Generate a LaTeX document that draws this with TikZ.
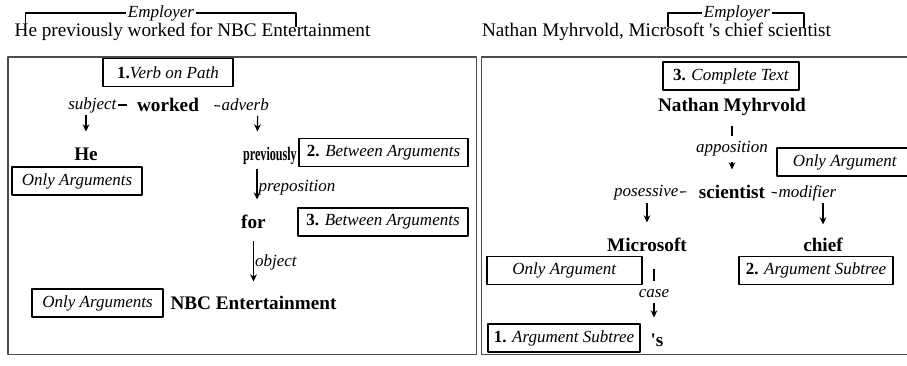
\documentclass[tikz,border=0pt]{standalone}
\usepackage{fontspec}
\usepackage{graphicx}
\setmainfont{Liberation Serif}[BoldFont={Liberation Serif Bold},ItalicFont={Liberation Serif Italic},BoldItalicFont={Liberation Serif Bold Italic}]
\usetikzlibrary{arrows.meta}
\begin{document}
\begin{tikzpicture}[>={Stealth[length=3.6pt,width=3.4pt]},line join=round,x=0.5pt,y=-0.5pt,line width=0.55pt,
	word/.style={font=\fontsize{9.6}{11}\selectfont\bfseries,inner xsep=1pt,inner ysep=0pt,text height=6.5pt,text depth=0pt},
	lab/.style={font=\fontsize{8.5}{10}\selectfont\itshape,inner sep=0.5pt,text height=6pt,text depth=2pt},
	khung/.style={draw,font=\fontsize{8.5}{10}\selectfont,minimum height=14pt,inner sep=1pt},
	cau/.style={font=\fontsize{9.6}{11}\selectfont,anchor=base,inner sep=0pt},
	vien/.style={draw=black!70,line width=0.7pt}]
	\useasboundingbox (0,0) rectangle (907,365);
	%Câu trái
	\node[cau] (sL) at (192.5,36) {He previously worked for NBC Entertainment};
	\node[lab] (eL) at (161,13) {Employer};
	\coordinate (eL1) at (25.7,27);
	\coordinate (eL2) at (296,27);
	\draw (eL1) |- (eL.west);
	\draw (eL.east) -| (eL2);
	\draw[vien] (8,57) rectangle (476.5,354.5);
	%Cây trái
	\node[khung,minimum width=65pt] (k1) at (168,72.5) {\textbf{1.}\textit{Verb on Path}};
	\node[word] (worked) at (168,105) {worked};
	\node[lab,anchor=east] (subj) at (118,105) {subject};
	\node[lab,anchor=west] (adv) at (220,106) {adverb};
	\node[word] (he) at (86,153.5) {He};
	\node[khung,minimum width=65pt] (k2) at (77,181) {\textit{Only Arguments}};
	\node[word] (prev) at (270,153.5) {\scalebox{0.63}[1]{previously}};
	\node[khung,minimum width=84.5pt] (k3) at (383.5,152.5) {\textbf{2.} \textit{Between Arguments}};
	\node[word] (for) at (253.5,221.5) {for};
	\node[khung,minimum width=85pt] (k4) at (383,222) {\textbf{3.} \textit{Between Arguments}};
	\node[word] (nbc) at (253.5,302.5) {NBC Entertainment};
	\node[khung,minimum width=65.5pt] (k5) at (97.5,303) {\textit{Only Arguments}};
	\draw[shorten >=4pt] (subj.east) -- (worked.west);
	\draw[shorten <=6.5pt] (worked.east) -- (adv.west);
	\draw[->,shorten >=7.5pt] (subj.south -| he) -- (he.north);
	\draw[->,shorten >=7.5pt] ([xshift=6.25pt]adv.south) -- ([xshift=-6.5pt]prev.north);
	\draw[->,shorten <=4pt,shorten >=7.5pt] ([xshift=-6.5pt]prev.south) -- ([xshift=1.75pt]for.north)
		node[lab,midway,right] {preposition};
	\draw[->,shorten <=6pt,shorten >=7pt] (for.south) -- (nbc.north)
		node[lab,midway,right] {object};
	%Câu phải
	\node[cau] (sR) at (656.5,36) {Nathan Myhrvold, Microsoft \textquotesingle s chief scientist};
	\node[lab] (eR) at (737,13) {Employer};
	\coordinate (eR1) at (668,27);
	\coordinate (eR2) at (804,27);
	\draw (eR1) |- (eR.west);
	\draw (eR.east) -| (eR2);
	\draw[vien] (481.5,57) rectangle (915,354.5);
	%Cây phải
	\node[khung,minimum width=68pt] (k6) at (731,76) {\textbf{3.} \textit{Complete Text}};
	\node[word] (nathan) at (732,105) {Nathan Myhrvold};
	\node[lab] (appo) at (732,148) {apposition};
	\node[khung,minimum width=68pt] (k7) at (845,162) {\textit{Only Argument}};
	\node[word] (sci) at (732,191.7) {scientist};
	\node[lab,anchor=east] (pos) at (680,192) {posessive};
	\node[lab,anchor=west] (mod) at (777,193) {modifier};
	\node[word] (ms) at (647,245) {Microsoft};
	\node[word] (chief) at (823,245) {chief};
	\node[khung,minimum width=77.5pt] (k8) at (564.5,270.5) {\textit{Only Argument}};
	\node[khung,minimum width=77pt] (k9) at (816,270.5) {\textbf{2.} \textit{Argument Subtree}};
	\node[lab] (case) at (654,293) {case};
	\node[word] (sq) at (657,339.5) {\textquotesingle s};
	\node[khung,minimum width=76pt] (k10) at (564,338) {\textbf{1.} \textit{Argument Subtree}};
	\draw[shorten <=6.75pt,shorten >=1pt] (nathan.south) -- (appo.north);
	\draw[->,shorten <=2pt,shorten >=7.6pt] (appo.south) -- (sci.north);
	\draw[shorten >=5pt] (pos.east) -- (sci.west);
	\draw[shorten <=2pt] (sci.east) -- (mod.west);
	\draw[->,shorten <=0.5pt,shorten >=7.75pt] (pos.south -| ms) -- (ms.north);
	\draw[->,shorten >=6.75pt] (mod.south -| chief) -- (chief.north);
	\draw[shorten <=8.25pt,shorten >=1pt] (case.north |- ms.south) -- (case.north);
	\draw[->,shorten >=7.5pt] (case.south) -- (case.south |- sq.north);
\end{tikzpicture}
\end{document}
